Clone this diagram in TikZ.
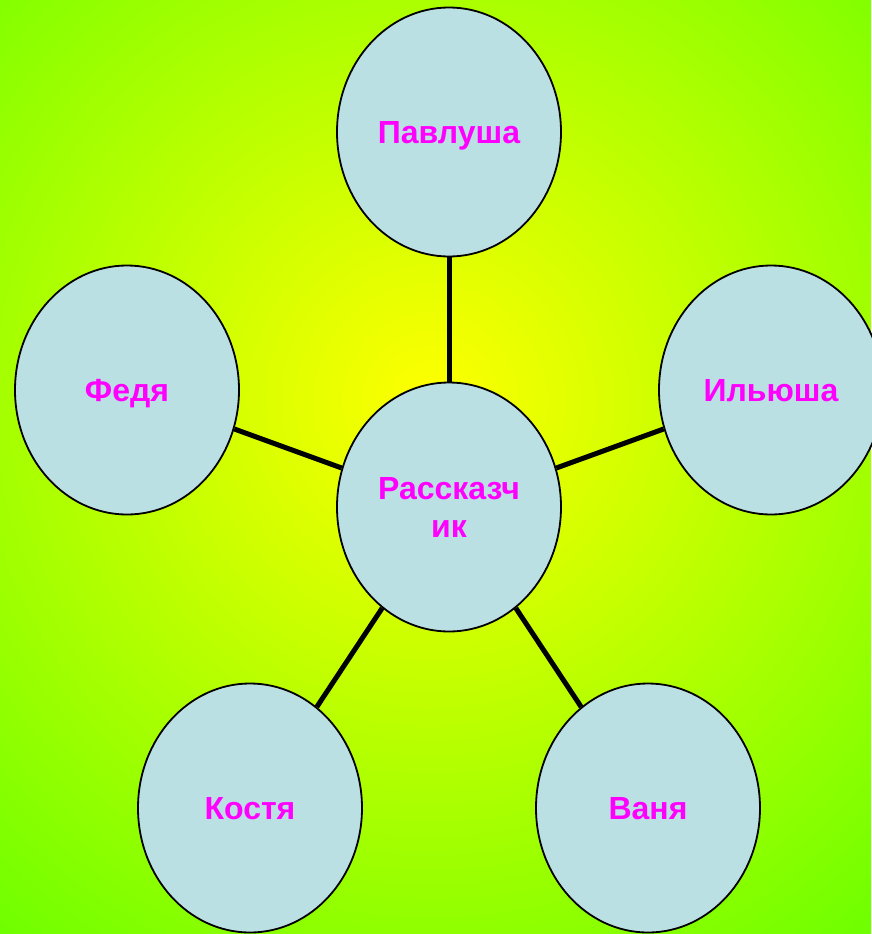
\documentclass[tikz,border=0pt]{standalone}
\usepackage{fontspec}
\setmainfont{Liberation Sans}
\usetikzlibrary{shapes.geometric,positioning}
\definecolor{pale}{RGB}{187,224,227}
\definecolor{leaf}{RGB}{108,255,0}
\definecolor{pink}{RGB}{255,0,255}
\pgfdeclareradialshading{glow}{\pgfpoint{0bp}{0bp}}{color(0bp)=(yellow); color(25bp)=(leaf); color(50bp)=(leaf)}

\begin{document}
\begin{tikzpicture}[x=1pt,y=-1pt,on grid,
    bubble/.style={ellipse,draw,line width=1.8pt,fill=pale,minimum width=224pt,minimum height=249pt,inner sep=0pt,
      text=pink,font=\fontsize{32}{38}\selectfont\bfseries,align=center,text depth=0pt},
    link/.style={line width=5pt}]
	   \useasboundingbox (0,0) rectangle (871,934);
	   \begin{scope}
	      \clip (0,0) rectangle (871,934);
	      \shade[shading=glow] (430,400) circle (700);
	   \end{scope}
	   \node[bubble] (r) at (449,507) {Рассказч\\ик};
	   \node[bubble] [above=375pt of r] (b_1) {Павлуша};
	   \node[bubble] [above right=117pt and 322pt of r] (b_2) {Ильюша};
	   \node[bubble] [below right=301pt and 199pt of r] (b_3) {Ваня};
	   \node[bubble] [below left=301pt and 199pt of r] (b_4) {Костя};
	   \node[bubble] [above left=117pt and 322pt of r] (b_5) {Федя};
	   \path[link]
			(r) edge (b_1)
			(r) edge (b_2)
			(r) edge (b_3)
			(r) edge (b_4)
			(r) edge (b_5);
	\end{tikzpicture}
\end{document}
